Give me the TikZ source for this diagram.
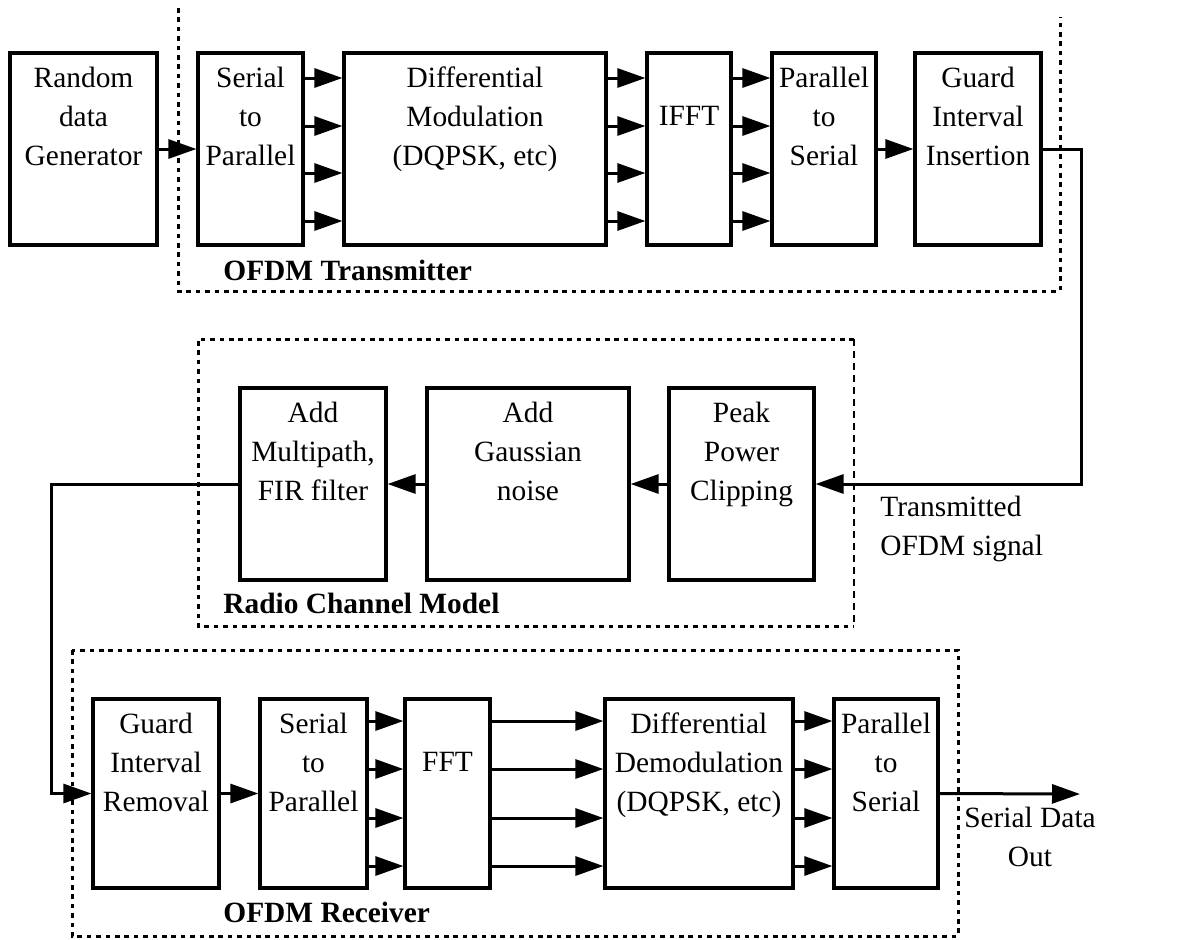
\documentclass[tikz,border=0pt]{standalone}
\usepackage{fontspec}
\setmainfont{Liberation Serif}
\usetikzlibrary{arrows.meta}
\begin{document}
\begin{tikzpicture}[x=0.5pt,y=-0.5pt,
 blk/.style={draw, line width=1.6pt, inner sep=0pt},
 txt/.style={anchor=north, align=center, inner sep=0pt, font=\fontsize{14.7}{19.5}\selectfont, yshift=-7.5pt},
 arr/.style={line width=1.5pt, -{Triangle[length=14pt,width=9.5pt]}},
 dots/.style={line width=1.5pt, dash pattern=on 2.3pt off 2.4pt},
 thindash/.style={line width=0.7pt, dash pattern=on 3.5pt off 2.5pt},
 lbl/.style={font=\fontsize{14.7}{19.5}\selectfont\bfseries, inner sep=0pt, anchor=base west},
 plain/.style={font=\fontsize{14.7}{19.5}\selectfont, inner sep=0pt, align=left}]

\useasboundingbox (0,0) rectangle (1186,939);

% dotted group frames
\draw[dots] (178,8) -- (178,291) -- (1060,291) -- (1060,17);
\draw[dots] (854,339) -- (198,339) -- (198,626) -- (854,626);
\draw[thindash] (854,339) -- (854,626);
\draw[dots] (72,650) rectangle (958,936);

% top row
\node[blk, minimum width=73.5pt, minimum height=96pt] (rdg) at (83.5,149) {};
\node[blk, minimum width=52.5pt, minimum height=96pt] (s2p) at (250.5,149) {};
\node[blk, minimum width=131pt, minimum height=96pt] (dmod) at (475,149) {};
\node[blk, minimum width=42pt, minimum height=96pt] (ifft) at (689,149) {};
\node[blk, minimum width=52pt, minimum height=96pt] (p2s) at (824,149) {};
\node[blk, minimum width=63pt, minimum height=96pt] (gii) at (978,149) {};

\node[txt] (rdgt) at (rdg.north) {Random\\data\\Generator};
\node[txt] (s2pt) at (s2p.north) {Serial\\to\\Parallel};
\node[txt] (dmodt) at (dmod.north) {Differential\\Modulation\\(DQPSK, etc)};
\node[txt, yshift=-19.5pt] (ifftt) at (ifft.north) {IFFT};
\node[txt] (p2st) at (p2s.north) {Parallel\\to\\Serial};
\node[txt] (giit) at (gii.north) {Guard\\Interval\\Insertion};

% middle row
\node[blk, minimum width=73pt, minimum height=96pt] (mp) at (313,484) {};
\node[blk, minimum width=101pt, minimum height=96pt] (gn) at (528,484) {};
\node[blk, minimum width=72.5pt, minimum height=96pt] (pp) at (741.5,484) {};

\node[txt] (mpt) at (mp.north) {Add\\Multipath,\\FIR filter};
\node[txt] (gnt) at (gn.north) {Add\\Gaussian\\noise};
\node[txt] (ppt) at (pp.north) {Peak\\Power\\Clipping};

% bottom row
\node[blk, minimum width=63pt, minimum height=94.5pt] (gir) at (156,793.5) {};
\node[blk, minimum width=53.5pt, minimum height=94.5pt] (s2pr) at (313.5,793.5) {};
\node[blk, minimum width=42.5pt, minimum height=94.5pt] (fft) at (447.5,793.5) {};
\node[blk, minimum width=94pt, minimum height=94.5pt] (ddem) at (699,793.5) {};
\node[blk, minimum width=52pt, minimum height=94.5pt] (p2sr) at (886,793.5) {};

\node[txt] (girt) at (gir.north) {Guard\\Interval\\Removal};
\node[txt] (s2prt) at (s2pr.north) {Serial\\to\\Parallel};
\node[txt, yshift=-19.5pt] (fftt) at (fft.north) {FFT};
\node[txt] (ddemt) at (ddem.north) {Differential\\Demodulation\\(DQPSK, etc)};
\node[txt] (p2srt) at (p2sr.north) {Parallel\\to\\Serial};

% labels
\node[lbl] (ltx) at (223,280) {OFDM Transmitter};
\node[lbl] (lch) at (223,613) {Radio Channel Model};
\node[lbl] (lrx) at (223,922) {OFDM Receiver};
\node[plain, anchor=north west] (ltos) at (880,496) {Transmitted\\OFDM signal};
\node[plain, align=center, anchor=north] (lout) at (1030,807) {Serial Data\\Out};

% helper coordinates
\foreach \i/\yy in {1/78,2/126,3/173,4/221} {\coordinate (ta\i) at (0,\yy);}
\foreach \i/\yy in {1/721,2/769,3/818,4/866} {\coordinate (ra\i) at (0,\yy);}
\coordinate (t1) at (1081,149);
\coordinate (t2) at (51,484);
\coordinate (outc) at (1080,794);

% transmitter connectors
\draw[arr] (rdg.east) -- (s2p.west);
\foreach \i in {1,...,4} {
  \draw[arr] (s2p.east |- ta\i) -- (dmod.west |- ta\i);
  \draw[arr] (dmod.east |- ta\i) -- (ifft.west |- ta\i);
  \draw[arr] (ifft.east |- ta\i) -- (p2s.west |- ta\i);
}
\draw[arr] (p2s.east) -- (gii.west);
\draw[arr] (gii.east) -- (t1) |- (pp.east);

% channel connectors
\draw[arr] (pp.west) -- (gn.east);
\draw[arr] (gn.west) -- (mp.east);
\draw[arr] (mp.west) -- (t2) |- (gir.west);

% receiver connectors
\draw[arr] (gir.east) -- (s2pr.west);
\foreach \i in {1,...,4} {
  \draw[arr] (s2pr.east |- ra\i) -- (fft.west |- ra\i);
  \draw[arr] (fft.east |- ra\i) -- (ddem.west |- ra\i);
  \draw[arr] (ddem.east |- ra\i) -- (p2sr.west |- ra\i);
}
\draw[arr] (p2sr.east) -- (outc);
\end{tikzpicture}
\end{document}
